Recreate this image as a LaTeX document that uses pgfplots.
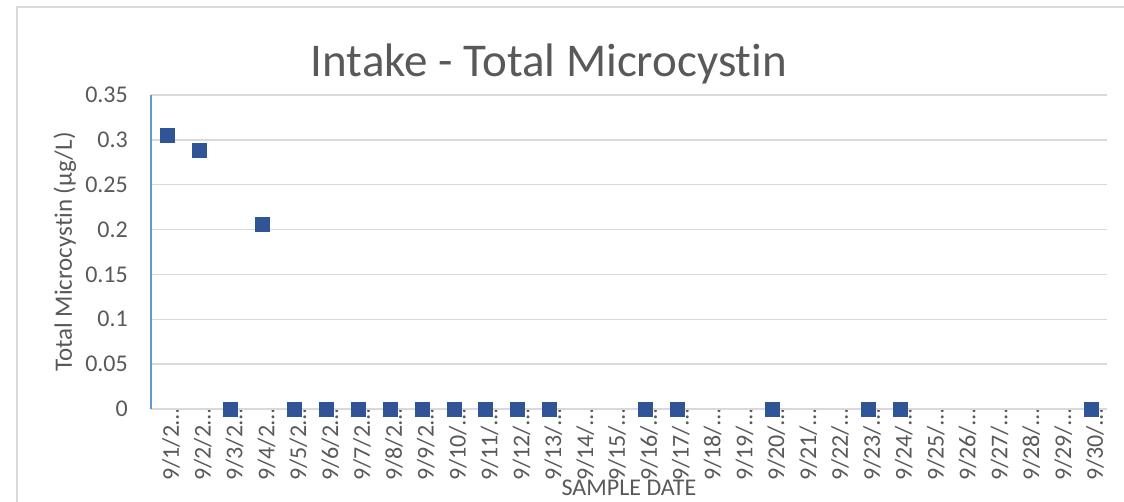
\documentclass[border=0pt]{standalone}
\usepackage{fontspec}
\setmainfont{Carlito}[Ligatures=NoCommon]
\usepackage{pgfplots}
\pgfplotsset{compat=1.18}
\definecolor{txt}{HTML}{595959}
\definecolor{grd}{HTML}{D9D9D9}
\definecolor{mk}{HTML}{2F5597}
\definecolor{yax}{HTML}{5B9BD5}
\begin{document}
\begin{tikzpicture}
\path[use as bounding box] (0,0) rectangle (1124bp,502bp);
\draw[grd, line width=1.5bp] (17bp,0) -- (17bp,495bp) -- (1124bp,495bp);
\node[anchor=base, text=txt, font=\fontsize{47bp}{50bp}\selectfont] at (549bp,425bp) {Intake - Total Microcystin};
\begin{axis}[
  at={(151bp,93bp)}, anchor=south west,
  scale only axis, width=956bp, height=314bp,
  xmin=-0.5, xmax=29.5, ymin=0, ymax=0.35,
  axis line style={draw=none},
  major tick length=0pt,
  ytick={0,0.05,0.1,0.15,0.2,0.25,0.3,0.35},
  yticklabels={0,0.05,0.1,0.15,0.2,0.25,0.3,0.35},
  ymajorgrids, grid style={grd, line width=1.5bp},
  xtick={0,...,29},
  xticklabels={9/1/2…,9/2/2…,9/3/2…,9/4/2…,9/5/2…,9/6/2…,9/7/2…,9/8/2…,9/9/2…,9/10/…,9/11/…,9/12/…,9/13/…,9/14/…,9/15/…,9/16/…,9/17/…,9/18/…,9/19/…,9/20/…,9/21/…,9/22/…,9/23/…,9/24/…,9/25/…,9/26/…,9/27/…,9/28/…,9/29/…,9/30/…},
  ticklabel style={text=txt, font=\fontsize{24bp}{26bp}\selectfont, inner sep=0pt},
  yticklabel style={anchor=east, xshift=-23bp},
  xticklabel style={rotate=90, anchor=east, yshift=-4bp},
  clip=false,
]
\draw[grd, line width=2bp] (rel axis cs:0,0) -- (rel axis cs:1,0);
\draw[yax, line width=1.5bp] (rel axis cs:0,0) -- (rel axis cs:0,1);
\addplot[only marks, mark=square*, mark size=7bp, mark options={fill=mk, draw=mk}] coordinates {
(0,0.305) (1,0.288) (2,0) (3,0.206) (4,0) (5,0) (6,0) (7,0) (8,0) (9,0) (10,0) (11,0) (12,0)
(15,0) (16,0) (19,0) (22,0) (23,0) (29,0)
};
\node[text=txt, font=\fontsize{25bp}{27bp}\selectfont, rotate=90] at ([xshift=-86bp]rel axis cs:0,0.5) {Total Microcystin (µg/L)};
\node[text=txt, font=\fontsize{24bp}{26bp}\selectfont] at ([yshift=-79bp]rel axis cs:0.5,0) {SAMPLE DATE};
\end{axis}
\end{tikzpicture}
\end{document}
